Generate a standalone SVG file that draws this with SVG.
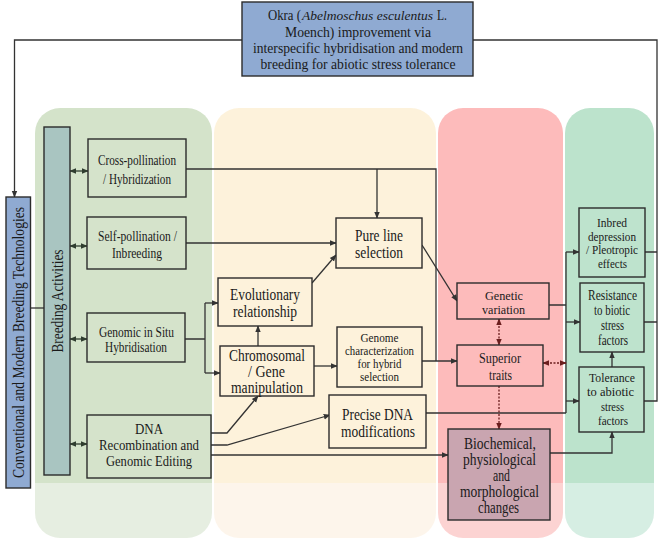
<svg xmlns="http://www.w3.org/2000/svg" width="661" height="540" viewBox="0 0 661 540">
<defs>
<style>
text{font-family:"Liberation Serif","Times New Roman",serif;fill:#1a1a1a;text-anchor:middle}
.box{stroke:#2b2b2b;stroke-width:1.4}
.c{fill:none;stroke:#333;stroke-width:1.3}
.d{fill:none;stroke:#2f3d2f;stroke-width:1.3}
.r{fill:none;stroke:#6b1e1e;stroke-width:1.3;stroke-dasharray:2 1.5}
.blue{fill:#8FAAD2}
.gbox{fill:#D5E3CB}
.ybox{fill:#FDF2DB}
.rbox{fill:#FDBBBB}
.tbox{fill:#BEE3CD}
.st{text-anchor:start}
.f12{font-size:12px}.f13{font-size:13px}.f14{font-size:14px}.f15{font-size:15px}.f16{font-size:16px}.f17{font-size:17px}
</style>
<marker id="ah" viewBox="0 0 10 10" refX="9" refY="5" markerWidth="7" markerHeight="7" markerUnits="userSpaceOnUse" orient="auto-start-reverse"><path d="M0,1 L10,5 L0,9 z" fill="#333"/></marker>
<marker id="ag" viewBox="0 0 10 10" refX="9" refY="5" markerWidth="7" markerHeight="7" markerUnits="userSpaceOnUse" orient="auto-start-reverse"><path d="M0,1 L10,5 L0,9 z" fill="#2f3d2f"/></marker>
<marker id="ar" viewBox="0 0 10 10" refX="9" refY="5" markerWidth="7" markerHeight="7" markerUnits="userSpaceOnUse" orient="auto-start-reverse"><path d="M0,1 L10,5 L0,9 z" fill="#6b1e1e"/></marker>
<linearGradient id="gG" x1="0" y1="0" x2="0" y2="1"><stop offset="0.872" stop-color="#D4E3CA"/><stop offset="0.872" stop-color="#E6EEE1"/></linearGradient>
<linearGradient id="gY" x1="0" y1="0" x2="0" y2="1"><stop offset="0.872" stop-color="#FDF2DB"/><stop offset="0.872" stop-color="#FDF5EB"/></linearGradient>
<linearGradient id="gR" x1="0" y1="0" x2="0" y2="1"><stop offset="0.872" stop-color="#FDBBBB"/><stop offset="0.872" stop-color="#FCD3D2"/></linearGradient>
<linearGradient id="gT" x1="0" y1="0" x2="0" y2="1"><stop offset="0.872" stop-color="#BCE3CC"/><stop offset="0.872" stop-color="#D6EEE3"/></linearGradient>
</defs>
<rect width="661" height="540" fill="#fff"/>
<g id="panels">
<rect x="35" y="108" width="177" height="430" rx="25" fill="url(#gG)"/>
<rect x="214" y="108" width="222" height="430" rx="25" fill="url(#gY)"/>
<rect x="438" y="108" width="125" height="430" rx="25" fill="url(#gR)"/>
<rect x="565" y="108" width="89" height="430" rx="25" fill="url(#gT)"/>
</g>
<g id="connectors">
<path class="c" d="M242,40 H14.5 V197" marker-end="url(#ah)"/>
<path class="c" d="M473,40 H657 V401 H644"/>
<path class="c" d="M645,252 H657 M644,322 H657"/>
<path class="c" d="M30.5,308 H44"/>
<path class="d" d="M70,171 H88" marker-start="url(#ag)" marker-end="url(#ag)"/>
<path class="d" d="M70,246 H87" marker-start="url(#ag)" marker-end="url(#ag)"/>
<path class="d" d="M70,339 H87" marker-start="url(#ag)" marker-end="url(#ag)"/>
<path class="d" d="M70,444 H87" marker-start="url(#ag)" marker-end="url(#ag)"/>
<path class="c" d="M186,169 H436 V361"/>
<path class="c" d="M377,169 V218" marker-end="url(#ah)"/>
<path class="c" d="M186,243 H336" marker-end="url(#ah)"/>
<path class="c" d="M185,339 H205 M205,303 V373"/>
<path class="c" d="M205,303 H218" marker-end="url(#ah)"/>
<path class="c" d="M205,373 H220" marker-end="url(#ah)"/>
<path class="c" d="M258,346 V326" marker-end="url(#ah)"/>
<path class="c" d="M312,283 L336,255" marker-end="url(#ah)"/>
<path class="c" d="M211,433 H227 L258,396" marker-end="url(#ah)"/>
<path class="c" d="M211,445 H227 L330,415" marker-end="url(#ah)"/>
<path class="c" d="M211,455 H448" marker-end="url(#ah)"/>
<path class="c" d="M314,366 H337" marker-end="url(#ah)"/>
<path class="c" d="M422,361 H457" marker-end="url(#ah)"/>
<path class="c" d="M422,245 L457,301" marker-end="url(#ah)"/>
<path class="c" d="M426,413 H566 M566,252 V413 M549,305 H566"/>
<path class="c" d="M566,252 H579" marker-end="url(#ah)"/>
<path class="c" d="M566,322 H580" marker-end="url(#ah)"/>
<path class="c" d="M566,401 H579" marker-end="url(#ah)"/>
<path class="r" d="M543,363 H566" marker-start="url(#ar)" marker-end="url(#ar)"/>
<path class="r" d="M499,319 V345" marker-start="url(#ar)" marker-end="url(#ar)"/>
<path class="r" d="M499,386 V429" marker-end="url(#ar)"/>
<path class="c" d="M550,453 H612 V432" marker-end="url(#ah)"/>
<path class="c" d="M612,367 V352" marker-end="url(#ah)"/>
</g>
<g id="title">
<rect class="box blue" x="242" y="2" width="231" height="74"/>
<text class="st" x="268" y="20" font-size="14.5" textLength="33" lengthAdjust="spacingAndGlyphs">Okra (</text>
<text class="st" x="302" y="20" font-size="13.5" font-style="italic" textLength="131" lengthAdjust="spacingAndGlyphs">Abelmoschus esculentus</text>
<text class="st" x="437" y="20" font-size="14.5" textLength="10" lengthAdjust="spacingAndGlyphs">L.</text>
<text x="358" y="37" font-size="14.5" textLength="146" lengthAdjust="spacingAndGlyphs">Moench) improvement via</text>
<text x="358" y="53" font-size="14.5" textLength="210" lengthAdjust="spacingAndGlyphs">interspecific hybridisation and modern</text>
<text x="358" y="69" font-size="14.5" textLength="195" lengthAdjust="spacingAndGlyphs">breeding for abiotic stress tolerance</text>
</g>
<g id="conventional">
<rect class="box blue" x="6" y="197" width="24.5" height="291"/>
<text class="f17" transform="translate(24,342.5) rotate(-90)" textLength="271" lengthAdjust="spacingAndGlyphs">Conventional and Modern Breeding Technologies</text>
</g>
<g id="breeding">
<rect class="box" fill="#A9C5C1" x="44" y="127" width="26" height="348"/>
<text class="f16" transform="translate(62.5,301) rotate(-90)" textLength="103" lengthAdjust="spacingAndGlyphs">Breeding Activities</text>
</g>
<g id="cross">
<rect class="box gbox" x="88" y="139" width="98" height="58"/>
<text class="f15" x="137" y="165" textLength="78" lengthAdjust="spacingAndGlyphs">Cross-pollination</text>
<text class="f15" x="137" y="184" textLength="68" lengthAdjust="spacingAndGlyphs">/ Hybridization</text>
</g>
<g id="self">
<rect class="box gbox" x="87" y="217" width="99" height="52"/>
<text class="f15" x="137.5" y="241" textLength="79" lengthAdjust="spacingAndGlyphs">Self-pollination  /</text>
<text class="f15" x="137" y="258" textLength="50" lengthAdjust="spacingAndGlyphs">Inbreeding</text>
</g>
<g id="gish">
<rect class="box gbox" x="87" y="313" width="98" height="49"/>
<text class="f14" x="136.5" y="337" textLength="75" lengthAdjust="spacingAndGlyphs">Genomic in Situ</text>
<text class="f14" x="136" y="352" textLength="62" lengthAdjust="spacingAndGlyphs">Hybridisation</text>
</g>
<g id="dna">
<rect class="box gbox" x="87" y="415" width="124" height="63"/>
<text class="f15" x="149" y="434" textLength="28" lengthAdjust="spacingAndGlyphs">DNA</text>
<text class="f15" x="149" y="450" textLength="100" lengthAdjust="spacingAndGlyphs">Recombination and</text>
<text class="f15" x="149" y="466" textLength="86" lengthAdjust="spacingAndGlyphs">Genomic Editing</text>
</g>
<g id="evolutionary">
<rect class="box ybox" x="218" y="278" width="94" height="48"/>
<text class="f16" x="265" y="300" textLength="70" lengthAdjust="spacingAndGlyphs">Evolutionary</text>
<text class="f16" x="265" y="317" textLength="64" lengthAdjust="spacingAndGlyphs">relationship</text>
</g>
<g id="chromosomal">
<rect class="box ybox" x="220" y="346" width="94" height="50"/>
<text class="f16" x="267" y="361" textLength="76" lengthAdjust="spacingAndGlyphs">Chromosomal</text>
<text class="f16" x="266.5" y="377" textLength="37" lengthAdjust="spacingAndGlyphs">/ Gene</text>
<text class="f16" x="267" y="393" textLength="72" lengthAdjust="spacingAndGlyphs">manipulation</text>
</g>
<g id="pureline">
<rect class="box ybox" x="336" y="218" width="86" height="50"/>
<text class="f16" x="379" y="241" textLength="48" lengthAdjust="spacingAndGlyphs">Pure line</text>
<text class="f16" x="379" y="258" textLength="48" lengthAdjust="spacingAndGlyphs">selection</text>
</g>
<g id="genome">
<rect class="box ybox" x="337" y="327" width="85" height="60"/>
<text class="f12" x="379.5" y="342" textLength="38" lengthAdjust="spacingAndGlyphs">Genome</text>
<text class="f12" x="379.5" y="355" textLength="69" lengthAdjust="spacingAndGlyphs">characterization</text>
<text class="f12" x="379.5" y="368" textLength="44" lengthAdjust="spacingAndGlyphs">for hybrid</text>
<text class="f12" x="379.5" y="381" textLength="39" lengthAdjust="spacingAndGlyphs">selection</text>
</g>
<g id="precise">
<rect class="box ybox" x="329" y="395" width="97" height="53"/>
<text class="f16" x="377.5" y="420" textLength="71" lengthAdjust="spacingAndGlyphs">Precise DNA</text>
<text class="f16" x="378" y="437" textLength="74" lengthAdjust="spacingAndGlyphs">modifications</text>
</g>
<g id="genetic">
<rect class="box rbox" x="457" y="283" width="92" height="36"/>
<text class="f13" x="504" y="300" textLength="38" lengthAdjust="spacingAndGlyphs">Genetic</text>
<text class="f13" x="503.5" y="314" textLength="43" lengthAdjust="spacingAndGlyphs">variation</text>
</g>
<g id="superior">
<rect class="box rbox" x="457" y="345" width="86" height="41"/>
<text class="f15" x="500" y="363" textLength="42" lengthAdjust="spacingAndGlyphs">Superior</text>
<text class="f15" x="500.5" y="380" textLength="23" lengthAdjust="spacingAndGlyphs">traits</text>
</g>
<g id="biochemical">
<rect class="box" fill="#C9A5B0" x="448" y="429" width="102" height="91"/>
<text class="f16" x="500" y="449" textLength="72" lengthAdjust="spacingAndGlyphs">Biochemical,</text>
<text class="f16" x="499.5" y="465" textLength="73" lengthAdjust="spacingAndGlyphs">physiological</text>
<text class="f16" x="501.5" y="481" textLength="17" lengthAdjust="spacingAndGlyphs">and</text>
<text class="f16" x="499.5" y="497" textLength="79" lengthAdjust="spacingAndGlyphs">morphological</text>
<text class="f16" x="498.5" y="513" textLength="41" lengthAdjust="spacingAndGlyphs">changes</text>
</g>
<g id="inbred">
<rect class="box tbox" x="579" y="208" width="66" height="69"/>
<text class="f13" x="612" y="227" textLength="30" lengthAdjust="spacingAndGlyphs">Inbred</text>
<text class="f13" x="612" y="240.5" textLength="48" lengthAdjust="spacingAndGlyphs">depression</text>
<text class="f13" x="612" y="254" textLength="52" lengthAdjust="spacingAndGlyphs">/ Pleotropic</text>
<text class="f13" x="612.5" y="268" textLength="29" lengthAdjust="spacingAndGlyphs">effects</text>
</g>
<g id="resistance">
<rect class="box tbox" x="580" y="283" width="64" height="69"/>
<text class="f14" x="612.5" y="300" textLength="49" lengthAdjust="spacingAndGlyphs">Resistance</text>
<text class="f14" x="612" y="315" textLength="36" lengthAdjust="spacingAndGlyphs">to biotic</text>
<text class="f14" x="612.5" y="330" textLength="23" lengthAdjust="spacingAndGlyphs">stress</text>
<text class="f14" x="613" y="345" textLength="30" lengthAdjust="spacingAndGlyphs">factors</text>
</g>
<g id="tolerance">
<rect class="box tbox" x="579" y="367" width="65" height="65"/>
<text class="f13" x="612" y="382" textLength="46" lengthAdjust="spacingAndGlyphs">Tolerance</text>
<text class="f13" x="610.5" y="396" textLength="47" lengthAdjust="spacingAndGlyphs">to abiotic</text>
<text class="f13" x="612.5" y="411" textLength="23" lengthAdjust="spacingAndGlyphs">stress</text>
<text class="f13" x="613" y="425" textLength="30" lengthAdjust="spacingAndGlyphs">factors</text>
</g>
</svg>
